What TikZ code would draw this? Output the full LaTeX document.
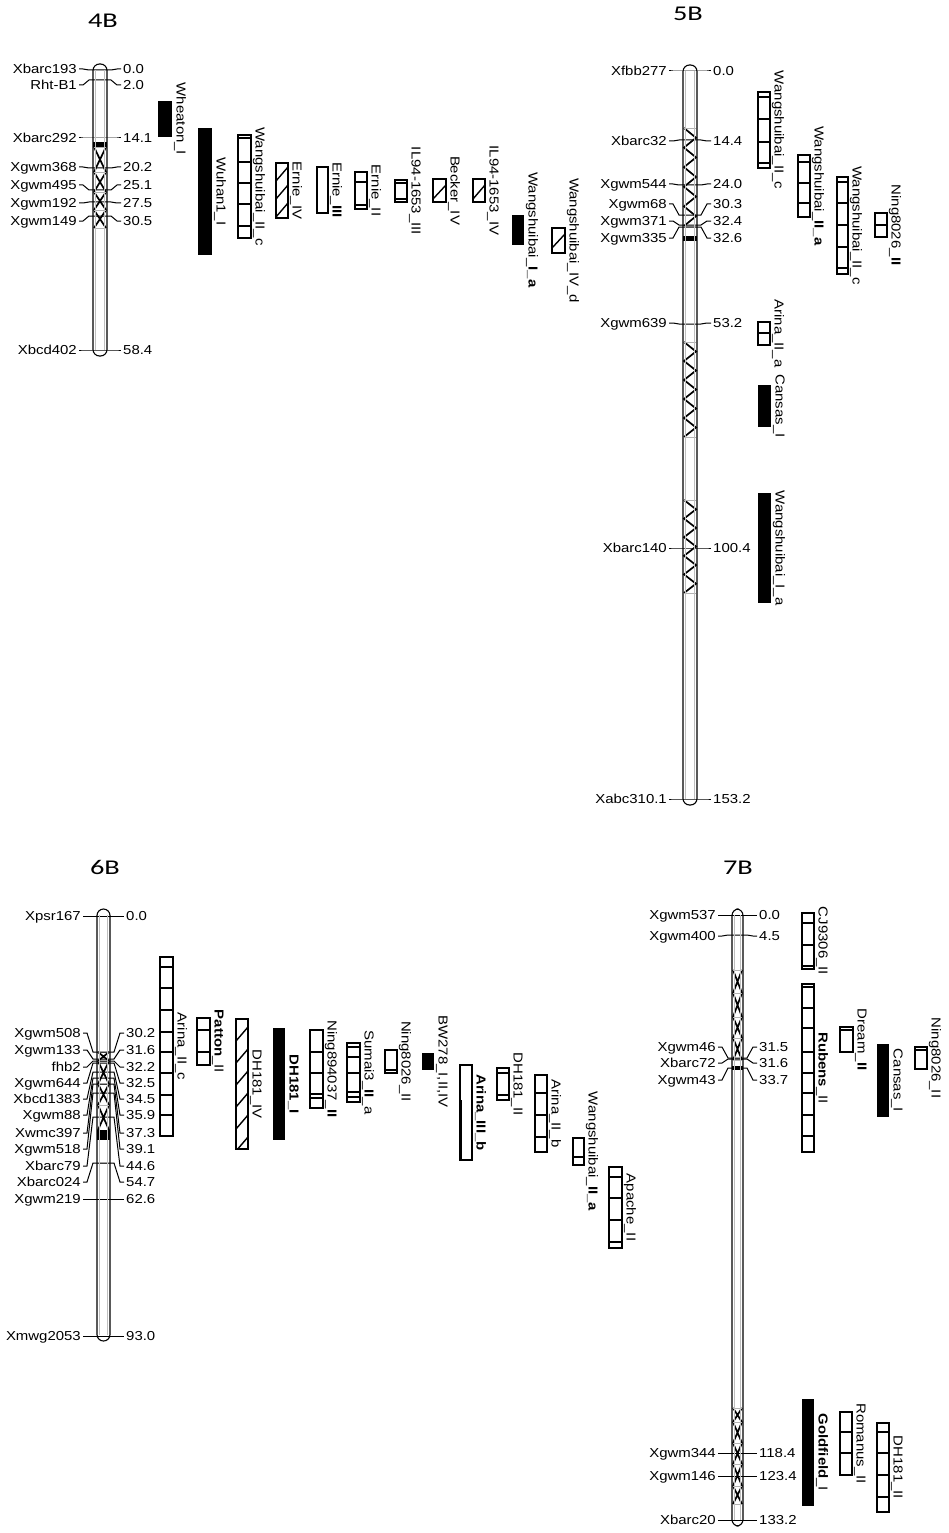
\documentclass[tikz,border=0pt]{standalone}
\usepackage{fontspec}
\setmainfont{Liberation Sans}
\newfontfamily\titlefont{Carlito}
\newcommand{\lb}[1]{\scalebox{1.15}[1]{#1}}
\tikzset{
 lead/.style={line width=1pt},
 boxl/.style={draw, line width=1.1pt},
 mk/.style={inner sep=0pt, font=\fontsize{13}{13}\selectfont},
 ql/.style={inner sep=0pt, rotate=-90, anchor=base, font=\fontsize{13}{13}\selectfont},
 ttl/.style={inner sep=0pt, font=\titlefont\fontsize{21}{21}\selectfont},
 xline/.style={line width=1.7pt},
}
% chromosome background / outline
\newcommand{\chrombg}[4]{\fill[white,rounded corners=6.5pt] (#1,#3) rectangle (#2,#4);}
\newcommand{\chromfg}[4]{%
 \draw[gray!50, line width=0.5pt] (#1+2.5,#3+6) -- (#1+2.5,#4-6) (#2-2.5,#3+6) -- (#2-2.5,#4-6);
 \draw[line width=1.1pt,rounded corners=6.5pt] (#1,#3) rectangle (#2,#4);}
% X in a segment
\newcommand{\xs}[4]{%
 \draw[xline] (#1,#3) -- (#2,#4) (#1,#4) -- (#2,#3);
 \draw[gray!60, line width=0.5pt] (#1,#3) -- (#2,#3) (#1,#4) -- (#2,#4);}
% zigzag region
\newcommand{\zz}[5]{%
 \draw[xline] (#1,#3) foreach \k in {1,...,#5} { -- (#2,{#3+(\k-0.5)*(#4-#3)/#5}) -- (#1,{#3+\k*(#4-#3)/#5}) };
 \draw[gray!60, line width=0.5pt] (#1,#3) -- (#2,#3) (#1,#4) -- (#2,#4);}
% marker: xl xr yactual ylabel name value id
\newcommand{\mkr}[7]{%
 \draw[lead] (#1-14,#4) -- (#1-10,#4) -- (#1-4,#3) -- (#2+4,#3) -- (#2+10,#4) -- (#2+14,#4);
 \node[mk, anchor=base east] (#7L) at (#1-16,#4+4.6) {\lb{#5}};
 \node[mk, anchor=base west] (#7R) at (#2+16,#4+4.6) {\lb{#6}};}
% white QTL box with dividers
\newcommand{\qw}[7]{%
 \draw[boxl, fill=white] (#2,#3) rectangle (#4,#5);
 \foreach \d in {#6} {\draw[line width=1.1pt] (#2,\d) -- (#4,\d);}
 \node[ql] (#1) at (#4+4.5,{(#3+#5)/2}) {\lb{#7}};}
% black QTL box
\newcommand{\qb}[6]{%
 \fill[black] (#2,#3) rectangle (#4,#5);
 \node[ql] (#1) at (#4+4.5,{(#3+#5)/2}) {\lb{#6}};}
% hatched QTL box
\newcommand{\qh}[7]{%
 \fill[white] (#2,#3) rectangle (#4,#5);
 \begin{scope}
 \clip (#2,#3) rectangle (#4,#5);
 \foreach \k in {0,...,14} {\draw[line width=1.4pt] (#2,{#3+\k*#6}) -- (#4,{#3+\k*#6-14});}
 \end{scope}
 \draw[boxl] (#2,#3) rectangle (#4,#5);
 \node[ql] (#1) at (#4+4.5,{(#3+#5)/2}) {\lb{#7}};}
\begin{document}
\begin{tikzpicture}[x=1pt,y=-1pt]
\useasboundingbox[fill=white] (0,0) rectangle (948,1533);

% ================= 4B =================
\node[ttl] (t4) at (103,21) {\scalebox{1.35}[1]{4B}};
\chrombg{93}{107}{64}{356}
\fill (93,142) rectangle (107,147);
\xs{94}{106}{147}{172}\xs{94}{106}{172}{192}\xs{94}{106}{192}{210}\xs{94}{106}{210}{228}
\mkr{93}{107}{70}{69}{Xbarc193}{0.0}{m41}
\mkr{93}{107}{80}{85}{Rht-B1}{2.0}{m42}
\mkr{93}{107}{138}{138}{Xbarc292}{14.1}{m43}
\mkr{93}{107}{168}{167}{Xgwm368}{20.2}{m44}
\mkr{93}{107}{190}{185}{Xgwm495}{25.1}{m45}
\mkr{93}{107}{202}{203}{Xgwm192}{27.5}{m46}
\mkr{93}{107}{216}{221}{Xgwm149}{30.5}{m47}
\mkr{93}{107}{350}{350}{Xbcd402}{58.4}{m48}
\chromfg{93}{107}{64}{356}

\qb{q41}{158}{101}{172}{137}{Wheaton\_I}
\qb{q42}{198}{128}{212}{255}{Wuhan1\_I}
\qw{q43}{238}{135}{251}{238}{138,162,183,204,226}{Wangshuibai\_II\_c}
\qh{q44}{276}{163}{288}{218}{18}{Ernie\_IV}
\qw{q45}{317}{167}{328}{213}{167}{Ernie\_\textbf{III}}
\qw{q46}{355}{172}{367}{209}{182,205}{Ernie\_II}
\qw{q47}{395}{180}{407}{202}{183,199}{IL94-1653\_III}
\qh{q48}{433}{179}{446}{202}{20}{Becker\_IV}
\qh{q49}{473}{179}{485}{202}{20}{IL94-1653\_IV}
\qb{q410}{512}{215}{524}{245}{Wangshuibai\_\textbf{I\_a}}
\qh{q411}{552}{228}{565}{253}{20}{Wangshuibai\_IV\_d}

% ================= 5B =================
\node[ttl] (t5) at (688,14) {\scalebox{1.35}[1]{5B}};
\chrombg{683}{697}{65}{805}
\zz{684}{696}{128}{226}{5}
\zz{684}{696}{342}{437}{5}
\zz{684}{696}{500}{593}{5}
\fill (683,236) rectangle (697,241);
\mkr{683}{697}{71}{71}{Xfbb277}{0.0}{m51}
\mkr{683}{697}{140}{141}{Xbarc32}{14.4}{m52}
\mkr{683}{697}{185}{184}{Xgwm544}{24.0}{m53}
\mkr{683}{697}{215}{204}{Xgwm68}{30.3}{m54}
\mkr{683}{697}{225}{221}{Xgwm371}{32.4}{m55}
\mkr{683}{697}{227}{238}{Xgwm335}{32.6}{m56}
\mkr{683}{697}{324}{323}{Xgwm639}{53.2}{m57}
\mkr{683}{697}{548}{548}{Xbarc140}{100.4}{m58}
\mkr{683}{697}{799}{799}{Xabc310.1}{153.2}{m59}
\chromfg{683}{697}{65}{805}

\qw{q51}{758}{92}{770}{168}{97,119,142,163}{Wangshuibai\_II\_c}
\qw{q52}{798}{155}{810}{217}{162,183,203}{Wangshuibai\_\textbf{II\_a}}
\qw{q53}{837}{177}{848}{274}{182,203,225,247,268}{Wangshuibai\_II\_c}
\qw{q54}{875}{213}{887}{237}{225}{Ning8026\_\textbf{II}}
\qw{q55}{758}{322}{770}{345}{333}{Arina\_II\_a}
\qb{q56}{758}{385}{771}{427}{Cansas\_I}
\qb{q57}{758}{493}{771}{603}{Wangshuibai\_I\_a}

% ================= 6B =================
\node[ttl] (t6) at (105,867) {\scalebox{1.35}[1]{6B}};
\chrombg{97}{110}{909}{1341}
\xs{98}{109}{1052}{1061}\xs{98}{109}{1061}{1084}\xs{98}{109}{1084}{1105}\xs{98}{109}{1105}{1130}
\fill (97,1130) rectangle (110,1140);
\draw[gray!60, line width=0.5pt] (98,1163) -- (109,1163);
\mkr{97}{110}{916}{916}{Xpsr167}{0.0}{m61}
\mkr{97}{110}{1052}{1033}{Xgwm508}{30.2}{m62}
\mkr{97}{110}{1059}{1050}{Xgwm133}{31.6}{m63}
\mkr{97}{110}{1061}{1067}{fhb2}{32.2}{m64}
\mkr{97}{110}{1063}{1083}{Xgwm644}{32.5}{m65}
\mkr{97}{110}{1072}{1099}{Xbcd1383}{34.5}{m66}
\mkr{97}{110}{1078}{1115}{Xgwm88}{35.9}{m67}
\mkr{97}{110}{1084}{1133}{Xwmc397}{37.3}{m68}
\mkr{97}{110}{1093}{1149}{Xgwm518}{39.1}{m69}
\mkr{97}{110}{1117}{1166}{Xbarc79}{44.6}{m610}
\mkr{97}{110}{1163}{1182}{Xbarc024}{54.7}{m611}
\mkr{97}{110}{1199}{1199}{Xgwm219}{62.6}{m612}
\mkr{97}{110}{1336}{1336}{Xmwg2053}{93.0}{m613}
\chromfg{97}{110}{909}{1341}

\qw{q61}{160}{957}{173}{1136}{967,988,1010,1032,1052,1073,1095,1115}{Arina\_II\_c}
\qw{q62}{197}{1018}{210}{1065}{1030,1052}{\textbf{Patton}\_II}
\qh{q63}{236}{1019}{248}{1149}{22}{DH181\_IV}
\qb{q64}{273}{1028}{285}{1140}{\textbf{DH181\_I}}
\qw{q65}{310}{1030}{323}{1108}{1052,1073,1094,1098}{Ning894037\_\textbf{II}}
\qw{q66}{347}{1043}{360}{1102}{1047,1057,1073,1092,1097}{Sumai3\_\textbf{II}\_a}
\qw{q67}{385}{1050}{397}{1073}{1070}{Ning8026\_II}
\qb{q68}{422}{1053}{434}{1070}{BW278\_I,II,IV}
\qw{q69}{460}{1065}{472}{1160}{1065}{\textbf{Arina\_III\_b}}
\draw[line width=2pt] (461,1100) -- (461,1160);
\qw{q610}{497}{1068}{509}{1100}{1073,1095}{DH181\_II}
\qw{q611}{535}{1075}{547}{1152}{1093,1115,1137}{Arina\_II\_b}
\qw{q612}{573}{1138}{584}{1165}{1157}{Wangshuibai\_\textbf{II\_a}}
\qw{q613}{609}{1167}{622}{1248}{1177,1198,1220,1242}{Apache\_II}

% ================= 7B =================
\node[ttl] (t7) at (738,868) {\scalebox{1.35}[1]{7B}};
\chrombg{732}{743}{909}{1526}
\xs{733}{742}{970}{993}\xs{733}{742}{993}{1017}\xs{733}{742}{1017}{1038}\xs{733}{742}{1038}{1060}
\fill (732,1066) rectangle (743,1070);
\xs{733}{742}{1408}{1422}\xs{733}{742}{1422}{1443}\xs{733}{742}{1443}{1464}\xs{733}{742}{1464}{1486}\xs{733}{742}{1486}{1504}
\mkr{732}{743}{915}{915}{Xgwm537}{0.0}{m71}
\mkr{732}{743}{935}{936}{Xgwm400}{4.5}{m72}
\mkr{732}{743}{1058}{1047}{Xgwm46}{31.5}{m73}
\mkr{732}{743}{1059}{1063}{Xbarc72}{31.6}{m74}
\mkr{732}{743}{1068}{1080}{Xgwm43}{33.7}{m75}
\mkr{732}{743}{1453}{1453}{Xgwm344}{118.4}{m76}
\mkr{732}{743}{1476}{1476}{Xgwm146}{123.4}{m77}
\mkr{732}{743}{1520}{1520}{Xbarc20}{133.2}{m78}
\chromfg{732}{743}{909}{1526}

\qw{q71}{802}{913}{814}{969}{923,945,966}{CJ9306\_II}
\qw{q72}{802}{984}{814}{1152}{987,1008,1028,1052,1073,1093,1115,1136}{\textbf{Rubens}\_II}
\qw{q73}{840}{1027}{853}{1052}{1030}{Dream\_\textbf{II}}
\qb{q74}{877}{1044}{889}{1117}{Cansas\_I}
\qw{q75}{915}{1047}{927}{1069}{1050}{Ning8026\_II}
\qb{q76}{802}{1399}{814}{1506}{\textbf{Goldfield}\_I}
\qw{q77}{840}{1412}{852}{1475}{1432,1453}{Romanus\_II}
\qw{q78}{877}{1423}{889}{1512}{1432,1453,1475,1497}{DH181\_II}
\end{tikzpicture}
\end{document}
